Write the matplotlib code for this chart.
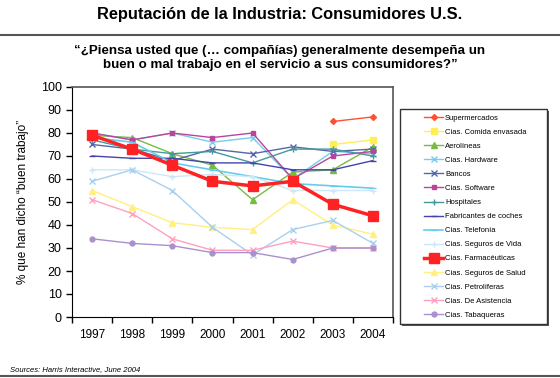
import numpy as np
import matplotlib
matplotlib.use("Agg")
import matplotlib.pyplot as plt
from matplotlib.patches import Rectangle
from matplotlib.lines import Line2D

plt.rcParams['font.family'] = ['Liberation Sans', 'DejaVu Sans']

years = ['1997', '1998', '1999', '2000', '2001', '2002', '2003', '2004']
nan = np.nan

# values
supermercados = [nan, nan, nan, nan, nan, nan, 85, 87]
comida_envasada = [nan, nan, nan, nan, nan, nan, 75, 77]
aerolineas = [79, 78, 71, 66, 51, 63, 64, 74]
hardware = [80, 77, 80, 76, 78, 60, 72, 71]
bancos = [75, 73, 68, 73, 71, 74, 72, 73]
software = [80, 77, 80, 78, 80, 60, 70, 72]
hospitales = [77, 73, 71, 72, 67, 73, 73, 70]
coches = [70, 69, 69, 67, 67, 64, 64, 68]
telefonia = [78, 76, 67, 64, 61, 58, 57, 56]
seguros_vida = [64, 64, 61, 62, 61, 55, 55, 55]
farmaceuticas = [79, 73, 66, 59, 57, 59, 49, 44]
seguros_salud = [55, 48, 41, 39, 38, 51, 40, 36]
petroliferas = [59, 64, 55, 39, 27, 38, 42, 32]
asistencia = [51, 45, 34, 29, 29, 33, 30, 30]
tabaqueras = [34, 32, 31, 28, 28, 25, 30, 30]

series = [
    ("Supermercados", supermercados, '#FF5030', 'D', 3, 1.0),
    ("Cias. Comida envasada", comida_envasada, '#FFEE55', 's', 4, 1.0),
    ("Aerolíneas", aerolineas, '#77BB44', '^', 4, 1.0),
    ("Cias. Hardware", hardware, '#77CCEE', 'x', 4, 1.0),
    ("Bancos", bancos, '#5566AA', 'x', 4, 1.0),
    ("Cias. Software", software, '#BB4499', 's', 3.5, 1.0),
    ("Hospitales", hospitales, '#449999', '+', 5, 1.0),
    ("Fabricantes de coches", coches, '#4444AA', '_', 4, 1.0),
    ("Cias. Telefonía", telefonia, '#66CCEE', '_', 4, 1.2),
    ("Cias. Seguros de Vida", seguros_vida, '#CCE8F8', '+', 5, 1.0),
    ("Cias. Farmacéuticas", farmaceuticas, '#FF2222', 's', 7, 2.5),
    ("Cias. Seguros de Salud", seguros_salud, '#FFF080', '^', 4, 1.0),
    ("Cias. Petrolíferas", petroliferas, '#A8D0EE', 'x', 4, 1.0),
    ("Cias. De Asistencia", asistencia, '#FFA0C0', 'x', 4, 1.0),
    ("Cias. Tabaqueras", tabaqueras, '#AA90CC', 'o', 3.5, 1.0),
]

fig = plt.figure(figsize=(5.6, 3.78), dpi=100)
W, H = 560.0, 378.0
ax = fig.add_axes([72 / W, 1 - 317 / H, (393 - 72) / W, (317 - 87) / H])

x = np.arange(len(years))
handles = []
for name, vals, col, mk, ms, lw in series:
    h, = ax.plot(x, vals, color=col, marker=mk, markersize=ms, linewidth=lw,
                 markeredgewidth=1.0, label=name)
    handles.append(h)

ax.set_xlim(-0.5, len(years) - 0.5)
ax.set_ylim(0, 100)
ax.set_yticks(range(0, 101, 10))
ax.set_xticks(x)
ax.set_xticklabels(years)
ax.set_xticks(np.arange(-0.5, len(years), 1.0), minor=True)
ax.tick_params(axis='x', which='major', length=0, pad=9, labelsize=8.5)
ax.tick_params(axis='x', which='minor', length=4, width=1)
ax.tick_params(axis='y', length=4, width=1, labelsize=9)
for s in ['top', 'right']:
    ax.spines[s].set_color('#555555')
    ax.spines[s].set_linewidth(1.2)
ax.set_ylabel('% que han dicho \u201cbuen trabajo\u201d', fontsize=8.5, labelpad=8)

# title, rule and subtitle
fig.text(0.5, 1 - 15 / H, "Reputación de la Industria: Consumidores U.S.",
         ha='center', va='center', fontsize=11.8, fontweight='bold')
fig.add_artist(Line2D([0, 1], [1 - 35 / H, 1 - 35 / H], color='#555555', lw=1.5))
fig.text(0.5, 1 - 58 / H,
         "\u201c¿Piensa usted que (\u2026 compañías) generalmente desempeña un\n"
         "buen o mal trabajo en el servicio a sus consumidores?\u201d",
         ha='center', va='center', fontsize=9.6, fontweight='bold', linespacing=1.3)

# legend box
fig.add_artist(Rectangle((402 / W, 1 - 326 / H), 147 / W, 215 / H,
                         transform=fig.transFigure, facecolor='#555555',
                         edgecolor='none'))
fig.add_artist(Rectangle((400 / W, 1 - 324 / H), 147 / W, 215 / H,
                         transform=fig.transFigure, facecolor='white',
                         edgecolor='#333333', lw=1))
fig.legend(handles=handles, loc='upper left', bbox_to_anchor=(421 / W, 1 - 111 / H),
           frameon=False, fontsize=5.5, labelspacing=0.88, handlelength=2.4,
           handletextpad=0.3, borderaxespad=0, borderpad=0.45)

fig.text(10 / W, 1 - 370 / H, "Sources: Harris Interactive, June 2004",
         fontsize=5.5, style='italic', va='center')
fig.add_artist(Line2D([0, 1], [1 - 376 / H, 1 - 376 / H], color='#555555', lw=1.5))

fig.savefig('out.png', dpi=100)
